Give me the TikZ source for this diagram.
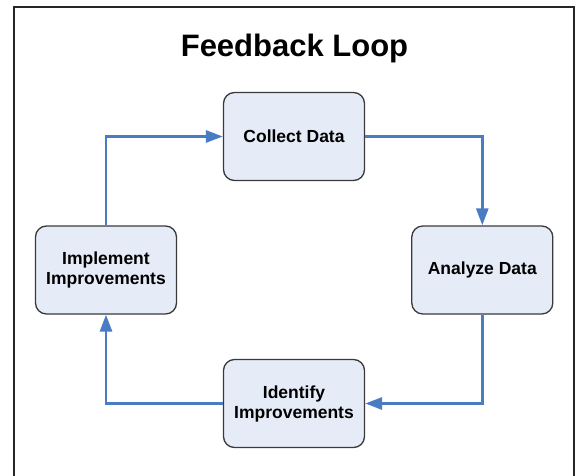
\documentclass[tikz,border=0pt]{standalone}
\usepackage{fontspec}
\setmainfont{Liberation Sans}
\usetikzlibrary{arrows.meta}
\definecolor{boxfill}{HTML}{E6ECF7}
\definecolor{boxline}{HTML}{3A3A3A}
\definecolor{flowblue}{HTML}{4A7CC4}
\tikzset{
  stagebox/.style={draw=boxline, line width=1.3pt, fill=boxfill,
    rounded corners=11pt, minimum width=141pt, minimum height=88pt,
    align=center, inner sep=2pt,
    font=\fontsize{17.5}{20}\selectfont\bfseries},
  flow/.style={draw=flowblue, line width=2.8pt,
    -{Triangle[length=17pt,width=12pt]}},
  frameline/.style={draw=black!85, line width=2pt}
}
\begin{document}
\begin{tikzpicture}[x=1pt,y=-1pt]
  \useasboundingbox (0,0) rectangle (576,476);
  % outer frame (open at the bottom edge)
  \draw[frameline] (13.5,490) -- (13.5,7.5) -- (574,7.5) -- (574,490);

  % title
  \node[anchor=base, font=\fontsize{31}{36}\selectfont\bfseries] (title) at (294.5,57) {Feedback Loop};

  % the four stages of the loop
  \node[stagebox] (collect)   at (294,136.5) {Collect Data};
  \node[stagebox] (analyze)   at (482.3,270) {Analyze Data};
  \node[stagebox] (identify)  at (294,403.5) {Identify\\Improvements};
  \node[stagebox] (implement) at (106,270)   {Implement\\Improvements};

  % connectors running clockwise
  \draw[flow] (collect.east)   -| (analyze.north);
  \draw[flow] (analyze.south)  |- (identify.east);
  \draw[flow] (identify.west)  -| (implement.south);
  \draw[flow] (implement.north) |- (collect.west);
\end{tikzpicture}
\end{document}
